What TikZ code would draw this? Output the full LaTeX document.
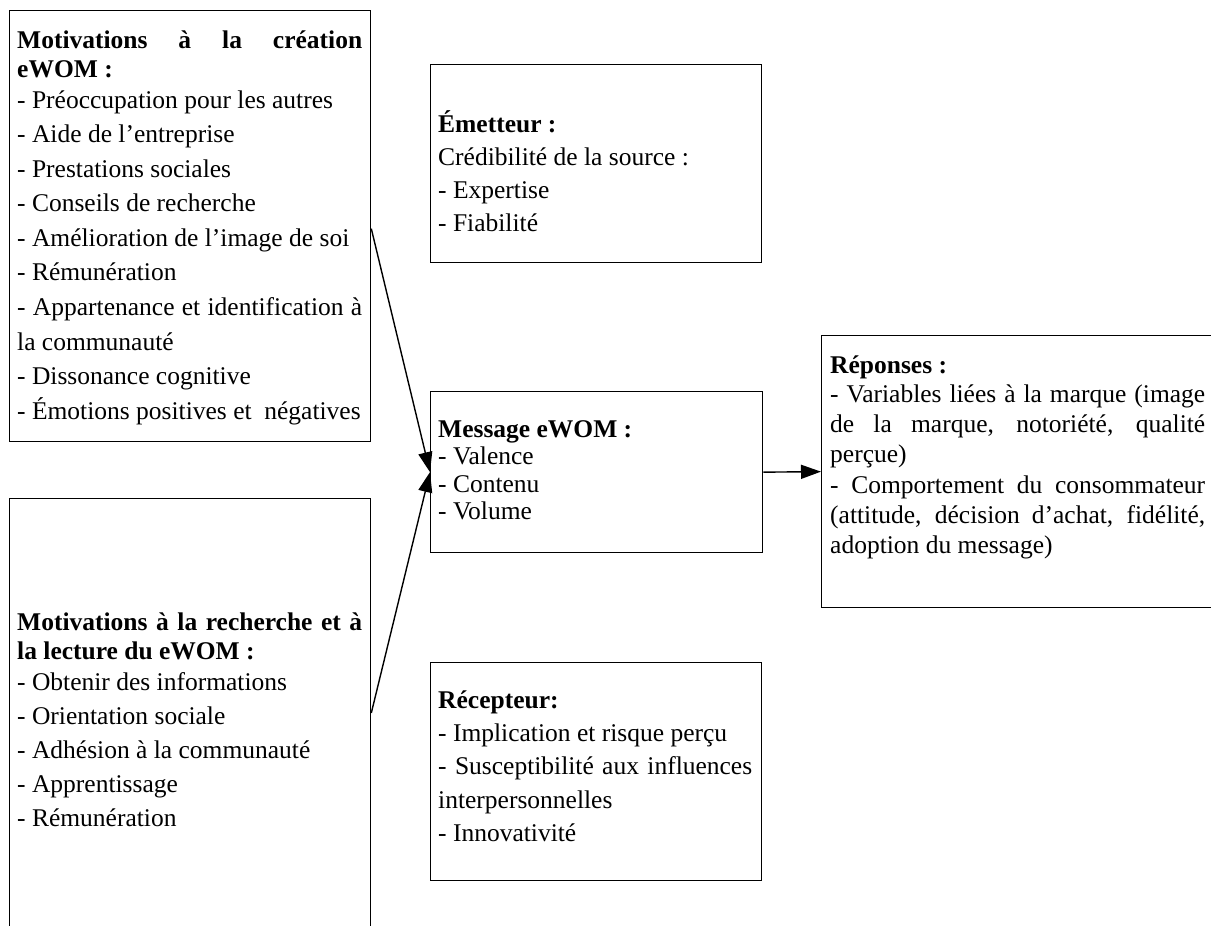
\documentclass[tikz,border=0pt]{standalone}
\usepackage{fontspec}
\setmainfont{Liberation Serif}
\usetikzlibrary{arrows.meta,calc}
\newcommand{\nat}{\spaceskip=0pt\xspaceskip=0pt\relax}
\newcommand{\J}[2][345pt]{\makebox[#1][s]{\strut #2}}
\tikzset{
  box/.style={draw, line width=1.3pt, inner sep=0pt, anchor=north west},
  txt/.style={anchor=north west, inner sep=0pt, align=left, text width=#1},
  conn/.style={line width=1.4pt, -{Triangle[length=20pt,width=14pt]}},
}
\begin{document}
\begin{tikzpicture}[x=1pt,y=-1pt]
\useasboundingbox (0,0) rectangle (1211,926);
\clip (0,0) rectangle (1211,926);
\fill[white] (0,0) rectangle (1211,926);

% boxes
\node[box, minimum width=361pt, minimum height=431pt] (A) at (9,10) {};
\node[box, minimum width=361pt, minimum height=460pt] (B) at (9,498) {};
\node[box, minimum width=331pt, minimum height=198pt] (E) at (430,64) {};
\node[box, minimum width=332pt, minimum height=161pt] (M) at (430,391) {};
\node[box, minimum width=331pt, minimum height=218pt] (R) at (430,662) {};
\node[box, minimum width=395pt, minimum height=272pt] (P) at (821,335) {};

% texts
\node[txt=380pt, font=\fontsize{25.5}{34.56}\selectfont] (Atxt) at (17,23.8) {\nat
\J{\textbf{Motivations à la création}}\\[-5.56pt]
\textbf{eWOM :}\\[-3.56pt]
- Préoccupation pour les autres\\
- Aide de l’entreprise\\
- Prestations sociales\\
- Conseils de recherche\\
- Amélioration de l’image de soi\\
- Rémunération\\
\J{- Appartenance et identification à}\\
la communauté\\
- Dissonance cognitive\\
- Émotions positives et\ \ négatives};

\node[txt=380pt, font=\fontsize{25.5}{34}\selectfont] (Btxt) at (17,606.2) {\nat
\J{\textbf{Motivations à la recherche et à}}\\[-5pt]
\textbf{la lecture du eWOM :}\\[-3pt]
- Obtenir des informations\\
- Orientation sociale\\
- Adhésion à la communauté\\
- Apprentissage\\
- Rémunération};

\node[txt=320pt, font=\fontsize{25.5}{33}\selectfont] (Etxt) at (438,108.9) {\nat
\strut\textbf{Émetteur :}\\
Crédibilité de la source :\\
- Expertise\\
- Fiabilité};

\node[txt=320pt, font=\fontsize{25.5}{27.5}\selectfont] (Mtxt) at (438,417.75) {\nat
\strut\textbf{Message eWOM :}\\
- Valence\\
- Contenu\\
- Volume};

\node[txt=340pt, font=\fontsize{25.5}{33.3}\selectfont] (Rtxt) at (438,684.7) {\nat
\strut\textbf{Récepteur:}\\
- Implication et risque perçu\\
\J[314pt]{- Susceptibilité aux influences}\\
interpersonnelles\\
- Innovativité};

\node[txt=400pt, font=\fontsize{25.5}{30.2}\selectfont] (Ptxt) at (830,352.5) {\nat
\strut\textbf{Réponses :}\\[-1.5pt]
\J[375pt]{- Variables liées à la marque (image}\\
\J[375pt]{de la marque, notoriété, qualité}\\
perçue)\\
\J[375pt]{- Comportement du consommateur}\\
\J[375pt]{(attitude, décision d’achat, fidélité,}\\
adoption du message)};

% connectors
\coordinate (Aout) at ([yshift=-2.5pt]A.east);
\coordinate (Bout) at ([yshift=-215pt]B.north east);
\draw[conn] (Aout) -- (M.west);
\draw[conn] (Bout) -- (M.west);
\draw[conn] (M.east) -- (P.west);
\end{tikzpicture}
\end{document}
